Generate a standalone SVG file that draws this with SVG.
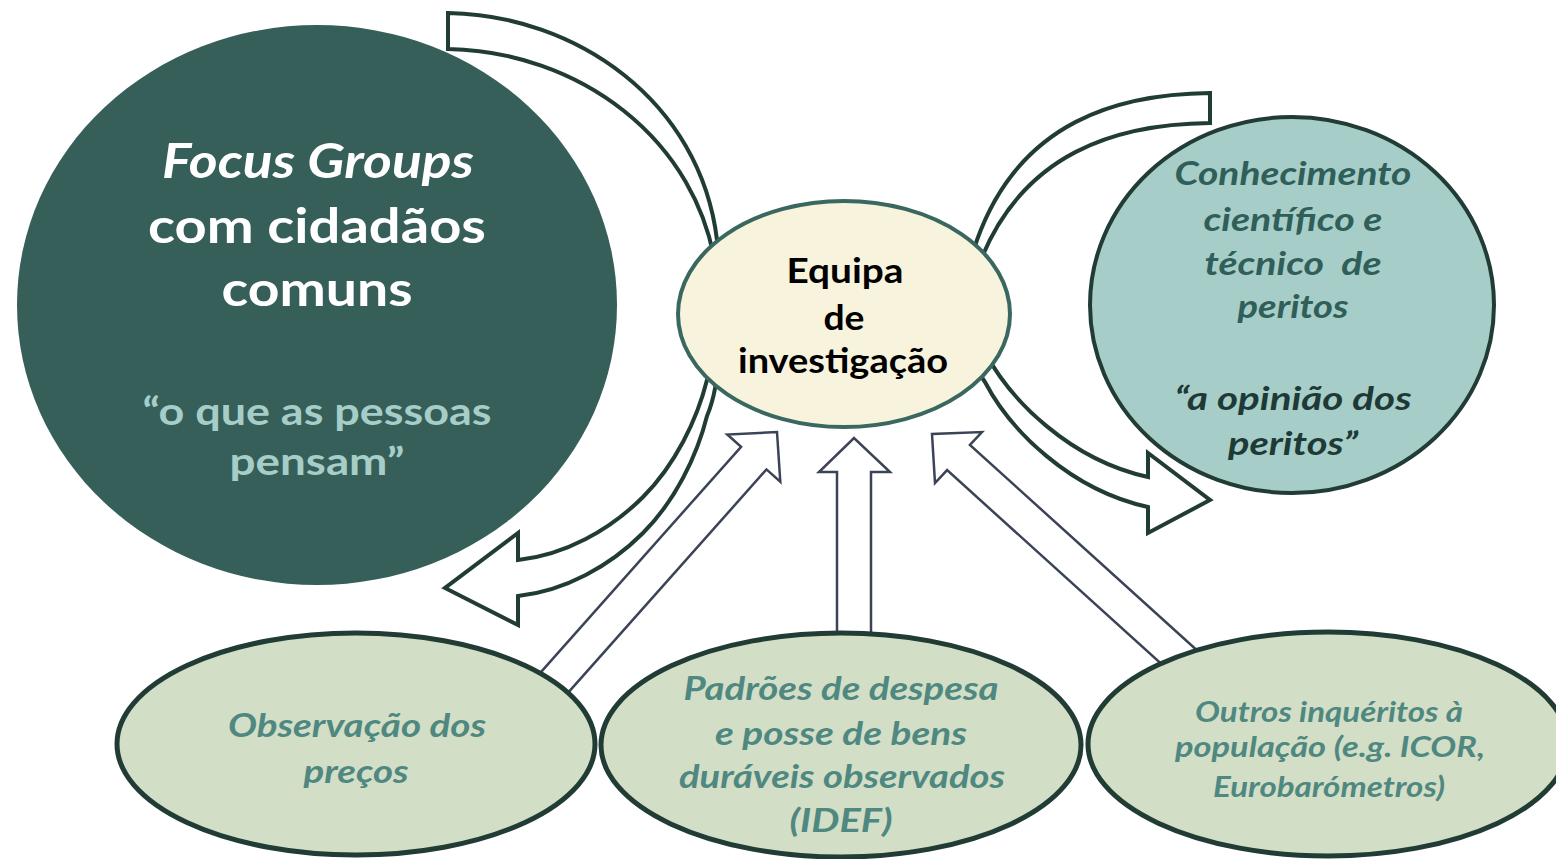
<svg xmlns="http://www.w3.org/2000/svg" width="1556" height="859" viewBox="0 0 1556 859">
<style>
.bg{fill:#ffffff}
.curve{fill:#ffffff;stroke:#213B35;stroke-width:4;stroke-linejoin:miter}
.block{fill:#ffffff;stroke:#3B4456;stroke-width:2.5;stroke-linejoin:miter}
.bottom{fill:#D3DEC6;stroke:#213B35;stroke-width:5}
text{font-family:Lato,"Open Sans","Liberation Sans",sans-serif;text-anchor:middle}
.w{fill:#ffffff;font-weight:700}
.q{fill:#A6CDC8;font-weight:700}
.blk{fill:#000000;font-weight:700}
.r1{fill:#2F5F58;font-weight:700;font-style:italic}
.r2{fill:#1E3A36;font-weight:700;font-style:italic}
.b{fill:#4F8880;font-weight:700;font-style:italic}
</style>
<rect class="bg" x="0" y="0" width="1556" height="859"/>
<g id="node-focus">
<ellipse cx="317" cy="305" rx="300" ry="280" fill="#365F59"/>
<text class="w" x="318" y="178" font-size="48" font-style="italic" font-weight="600" textLength="312" lengthAdjust="spacingAndGlyphs">Focus Groups</text>
<text class="w" x="317" y="243" font-size="48" textLength="338" lengthAdjust="spacingAndGlyphs">com cidadãos</text>
<text class="w" x="317" y="306" font-size="48" textLength="191" lengthAdjust="spacingAndGlyphs">comuns</text>
<text class="q" x="317" y="425" font-size="38" textLength="349" lengthAdjust="spacingAndGlyphs">“o que as pessoas</text>
<text class="q" x="317" y="475" font-size="38" textLength="175" lengthAdjust="spacingAndGlyphs">pensam”</text>
</g>
<g id="node-peritos">
<ellipse cx="1292" cy="305" rx="202" ry="188" fill="#A7CDC8" stroke="#213B35" stroke-width="4"/>
<text class="r1" x="1293" y="185" font-size="32" textLength="237" lengthAdjust="spacingAndGlyphs">Conhecimento</text>
<text class="r1" x="1293" y="231" font-size="32" textLength="179" lengthAdjust="spacingAndGlyphs">científico e</text>
<text class="r1" x="1293" y="275" font-size="32" textLength="177" lengthAdjust="spacingAndGlyphs" style="white-space:pre">técnico  de</text>
<text class="r1" x="1293" y="318" font-size="32" textLength="111" lengthAdjust="spacingAndGlyphs">peritos</text>
<text class="r2" x="1293" y="410" font-size="32" textLength="237" lengthAdjust="spacingAndGlyphs">“a opinião dos</text>
<text class="r2" x="1293" y="455" font-size="32" textLength="130" lengthAdjust="spacingAndGlyphs">peritos”</text>
</g>
<g id="connectors">
<path class="curve" d="M448,13 C575,15 700,100 717,240 C722,282 722,345 707,380 C697,420 675,465 643,497 C610,530 565,555 518,560 L518,533 L445,588 L518,625 L518,596 C565,591 610,566 643,533 C675,501 697,456 707,416 C722,381 722,318 717,276 C700,136 575,51 448,49 Z"/>
<path class="curve" d="M1210,93 C1120,94 1020,120 977,240 C964,276 968,330 985,352 C1010,400 1070,460 1148,477 L1148,453 L1210,500 L1148,533 L1148,507 C1070,490 1010,430 985,382 C968,360 964,306 977,270 C1020,150 1120,124 1210,123 Z"/>
<path class="block" d="M837,700 L837,472 L819,472 L854,438 L890,472 L871,472 L871,700 Z"/>
<path class="block" d="M508.7,708.3 L741.1,446.8 L727.3,434.5 L777,432 L780.3,481.7 L766.5,469.4 L534.1,730.9 Z"/>
<path class="block" d="M1237,686.5 L969.9,444.9 L982,432 L932,434 L935,483 L947.1,470.1 L1214.2,711.7 Z"/>
</g>
<g id="node-equipa">
<ellipse cx="844" cy="314" rx="166" ry="113" fill="#F7F3DC" stroke="#3A675F" stroke-width="4"/>
<text class="blk" x="845" y="283" font-size="35" textLength="117" lengthAdjust="spacingAndGlyphs">Equipa</text>
<text class="blk" x="844" y="330" font-size="35" textLength="41" lengthAdjust="spacingAndGlyphs">de</text>
<text class="blk" x="843" y="373" font-size="35" textLength="210" lengthAdjust="spacingAndGlyphs">investigação</text>
</g>
<g id="node-precos">
<ellipse class="bottom" cx="356" cy="744" rx="239" ry="111"/>
<text class="b" x="357" y="737" font-size="33" textLength="258" lengthAdjust="spacingAndGlyphs">Observação dos</text>
<text class="b" x="356" y="783" font-size="33" textLength="105" lengthAdjust="spacingAndGlyphs">preços</text>
</g>
<g id="node-idef">
<ellipse class="bottom" cx="841" cy="745" rx="240" ry="112"/>
<text class="b" x="841" y="700" font-size="33" textLength="315" lengthAdjust="spacingAndGlyphs">Padrões de despesa</text>
<text class="b" x="841" y="745" font-size="33" textLength="252" lengthAdjust="spacingAndGlyphs">e posse de bens</text>
<text class="b" x="842" y="788" font-size="33" textLength="326" lengthAdjust="spacingAndGlyphs">duráveis observados</text>
<text class="b" x="841" y="832" font-size="33" textLength="103" lengthAdjust="spacingAndGlyphs">(IDEF)</text>
</g>
<g id="node-outros">
<ellipse class="bottom" cx="1328" cy="744" rx="240" ry="112"/>
<text class="b" x="1329" y="722" font-size="29" textLength="268" lengthAdjust="spacingAndGlyphs">Outros inquéritos à</text>
<text class="b" x="1330" y="757" font-size="29" textLength="310" lengthAdjust="spacingAndGlyphs">população (e.g. ICOR,</text>
<text class="b" x="1329" y="797" font-size="29" textLength="232" lengthAdjust="spacingAndGlyphs">Eurobarómetros)</text>
</g>
</svg>
